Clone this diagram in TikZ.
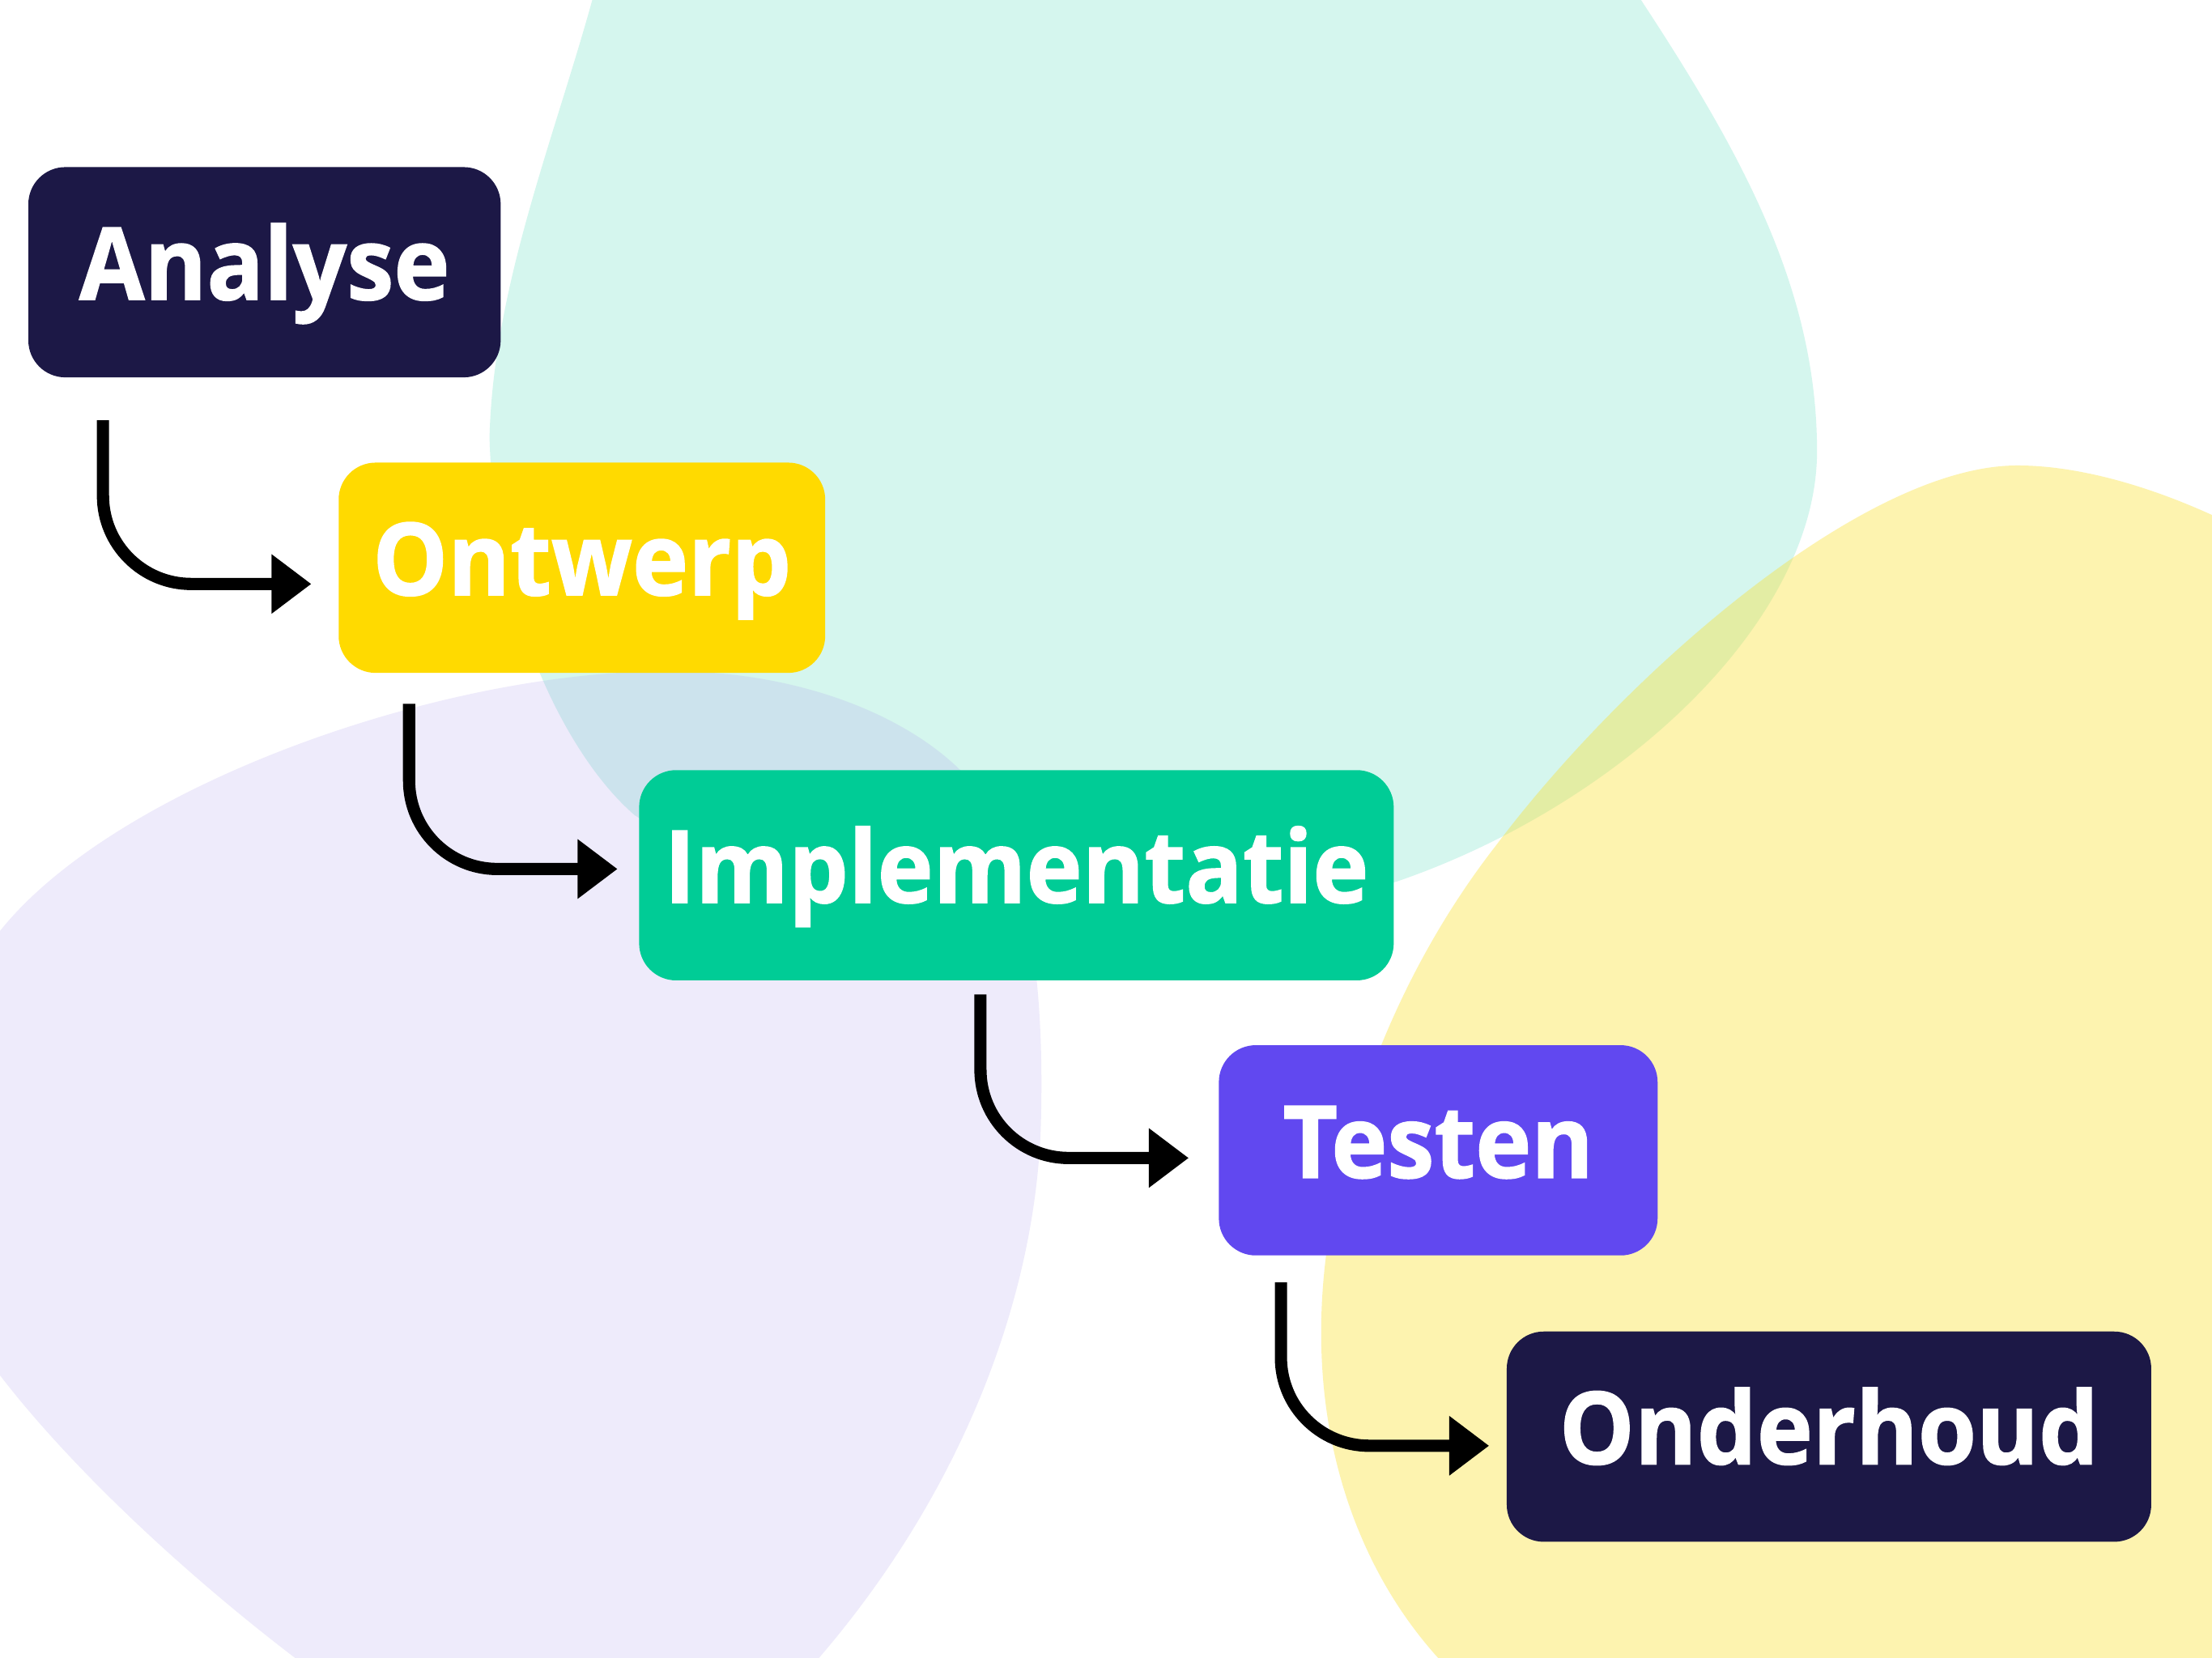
\documentclass[tikz,border=0pt]{standalone}
\usepackage{fontspec}
\setmainfont{Open Sans}[BoldFeatures={FakeBold=1.2,FakeStretch=0.94}]
\usetikzlibrary{arrows.meta,positioning}

\definecolor{navy}{HTML}{1C1846}
\definecolor{sun}{HTML}{FFDA00}
\definecolor{mintbox}{HTML}{00CC96}
\definecolor{violetbox}{HTML}{6148F0}
\definecolor{mintbg}{HTML}{D5F6EE}
\definecolor{lavbg}{HTML}{AA9BEB}
\definecolor{yelbg}{HTML}{FAE137}

\tikzset{
  stepbox/.style={rounded corners=13pt, minimum height=73.9pt, inner sep=0pt,
    text=white, font=\bfseries\fontsize{35.4}{40}\selectfont,
    text height=25.3pt, text depth=6pt},
  flow/.style={line width=4.3pt, rounded corners=31pt,
    -{Triangle[length=14pt,width=20pt]}},
}

\begin{document}
\begin{tikzpicture}[x=0.017423cm, y=-0.017423cm]
    \useasboundingbox (0,0) rectangle (1568,1175.4);
    \clip (0,0) rectangle (1568,1175.4);
    \fill[white] (0,0) rectangle (1568,1175.4);

    % Background blobs
    \fill[mintbg] (430,-40) .. controls (405,70) and (350,190) .. (347,310)
        .. controls (350,430) and (400,535) .. (450,578)
        .. controls (560,650) and (900,650) .. (990,625)
        .. controls (1150,570) and (1288,440) .. (1288,320)
        .. controls (1288,200) and (1230,100) .. (1150,-20)
        .. controls (1000,-250) and (500,-250) .. cycle;
    \fill[lavbg, opacity=0.2] (0,660) .. controls (80,560) and (300,480) .. (460,476)
        .. controls (580,472) and (670,520) .. (700,570)
        .. controls (730,620) and (740,700) .. (738,790)
        .. controls (736,920) and (680,1060) .. (580,1176)
        .. controls (450,1340) and (300,1250) .. (210,1176)
        .. controls (130,1115) and (50,1040) .. (0,975)
        .. controls (-100,860) and (-60,740) .. cycle;
    \fill[yelbg, opacity=0.4] (1700,450) .. controls (1620,380) and (1510,330) .. (1430,330)
        .. controls (1320,330) and (1150,480) .. (1060,600)
        .. controls (990,690) and (950,800) .. (940,890)
        .. controls (925,1010) and (960,1110) .. (1020,1176)
        .. controls (1100,1260) and (1500,1300) .. (1700,1250)
        .. controls (1800,1000) and (1800,600) .. cycle;

    % Steps
    \node[stepbox, fill=navy, minimum width=166pt] (analyse) at (187.5,193) {Analyse};
    \node[stepbox, fill=sun, minimum width=171pt] (ontwerp) at (412.5,402.5) {Ontwerp};
    \node[stepbox, fill=mintbox, minimum width=265.2pt] (implementatie) at (720.5,620.5) {Implementatie};
    \node[stepbox, fill=violetbox, minimum width=154.2pt] (testen) at (1019.5,815.5) {Testen};
    \node[stepbox, fill=navy, minimum width=226.5pt] (onderhoud) at (1296.5,1018.5) {Onderhoud};

    % Connectors
    \coordinate (s1) at (73,298);
    \coordinate (s2) at (290,499);
    \coordinate (s3) at (695,705);
    \coordinate (s4) at (908,909);
    \draw[flow] (s1) |- ([xshift=-9.4pt,yshift=-5.7pt]ontwerp.west);
    \draw[flow] (s2) |- ([xshift=-7.4pt,yshift=2.2pt]implementatie.west);
    \draw[flow] (s3) |- ([xshift=-10.4pt,yshift=-2.7pt]testen.west);
    \draw[flow] (s4) |- ([xshift=-6pt,yshift=-3.2pt]onderhoud.west);
\end{tikzpicture}
\end{document}
